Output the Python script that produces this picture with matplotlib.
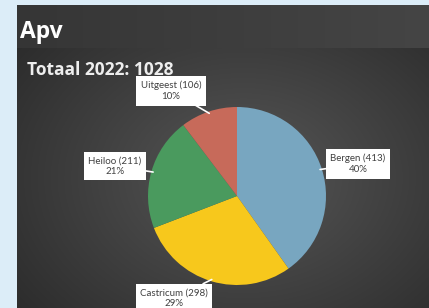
import numpy as np
import matplotlib.pyplot as plt

gemeenten = ['Bergen', 'Castricum', 'Heiloo', 'Uitgeest']
aantallen = [413, 298, 211, 106]
kleuren = ['#78a6c0', '#f7c81c', '#4a9a5e', '#c76a5a']
totaal = sum(aantallen)

W, H = 429, 308
fig = plt.figure(figsize=(W / 100, H / 100), dpi=100)
fig.patch.set_facecolor('#dcedf8')

# dark slide panel with radial gradient
bg = fig.add_axes([17 / W, 0, (W - 17) / W, (H - 48) / H])
yy, xx = np.mgrid[0:1:200j, 0:1:300j]
r = np.clip(np.sqrt(((xx - 0.55) / 0.75) ** 2 + ((yy - 0.5) / 0.9) ** 2), 0, 1)
grey = 0.34 - 0.18 * r
bg.imshow(np.dstack([grey] * 3), extent=[0, 1, 0, 1], aspect='auto')
bg.axis('off')

# title band
band = fig.add_axes([17 / W, (H - 48) / H, (W - 17) / W, 43 / H])
g = 0.21 + 0.06 * np.linspace(0, 1, 200)[None, :] * np.ones((2, 1))
band.imshow(np.dstack([g] * 3), extent=[0, 1, 0, 1], aspect='auto')
band.axis('off')
fig.text(20 / W, 1 - 38 / H, 'Apv', color='white', fontsize=16.5, fontweight='bold',
         family='Open Sans', va='baseline', ha='left')

fig.text(27 / W, 1 - 75 / H, 'Totaal 2022: %d' % totaal, color='#eeeeee',
         fontsize=12.5, fontweight='bold', family='Open Sans', va='baseline')

# pie
ax = fig.add_axes([148 / W, (H - 285) / H, 178 / W, 178 / H])
wedges, _ = ax.pie(aantallen, colors=kleuren, startangle=90, counterclock=False,
                   wedgeprops=dict(linewidth=0))
ax.set_aspect('equal')
ax.set_xlim(-1, 1)
ax.set_ylim(-1, 1)

# label boxes positions (pixels, box centers)
label_pos = [(358, 164), (174, 298), (115, 166), (171, 91)]
for w, n, naam, (px, py) in zip(wedges, aantallen, gemeenten, label_pos):
    mid = np.deg2rad((w.theta1 + w.theta2) / 2)
    xy = (np.cos(mid) * 0.98, np.sin(mid) * 0.98)
    pct = round(100 * n / totaal)
    ax.annotate('%s (%d)\n%d%%' % (naam, n, pct), xy=xy,
                xytext=(px / W, 1 - py / H), textcoords='figure fraction',
                ha='center', va='center', fontsize=7, color='#404040',
                family='Lato', linespacing=1.25,
                bbox=dict(boxstyle='square,pad=0.45', fc='white', ec='none'),
                arrowprops=dict(arrowstyle='-', color='white', lw=1.2,
                                shrinkA=0, shrinkB=0))

fig.savefig('out.png', dpi=100, facecolor=fig.get_facecolor())
